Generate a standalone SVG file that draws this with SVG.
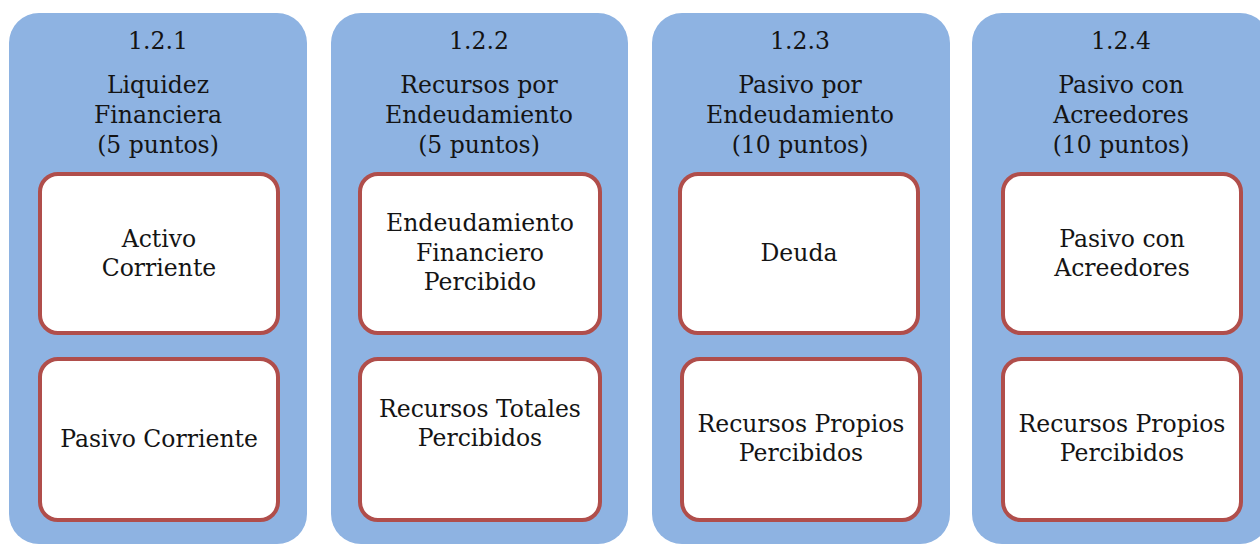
<svg xmlns="http://www.w3.org/2000/svg" width="1260" height="544" viewBox="0 0 1260 544">
<style>
.col{fill:#8EB3E2;}
.box{fill:#FFFFFF;stroke:#B04E4B;stroke-width:4;}
text{font-family:"DejaVu Serif","Liberation Serif",serif;font-size:23.5px;fill:#141414;text-anchor:middle;}
</style>
<rect width="1260" height="544" fill="#FFFFFF"/>
<g id="col1">
<rect class="col" x="9" y="13" width="298" height="531" rx="30"/>
<text x="158" y="49">1.2.1</text>
<text x="158" y="93">Liquidez</text>
<text x="158" y="123">Financiera</text>
<text x="158" y="153">(5 puntos)</text>
<g id="n1a"><rect class="box" x="40" y="174" width="238" height="159" rx="18"/>
<text x="159" y="247">Activo</text><text x="159" y="276">Corriente</text></g>
<g id="n1b"><rect class="box" x="40" y="359" width="238" height="161" rx="18"/>
<text x="159" y="447">Pasivo Corriente</text></g>
</g>
<g id="col2">
<rect class="col" x="331" y="13" width="297" height="531" rx="30"/>
<text x="479" y="49">1.2.2</text>
<text x="479" y="93">Recursos por</text>
<text x="479" y="123">Endeudamiento</text>
<text x="479" y="153">(5 puntos)</text>
<g id="n2a"><rect class="box" x="360" y="174" width="240" height="159" rx="18"/>
<text x="480" y="231">Endeudamiento</text><text x="480" y="261">Financiero</text><text x="480" y="290">Percibido</text></g>
<g id="n2b"><rect class="box" x="360" y="359" width="240" height="161" rx="18"/>
<text x="480" y="417">Recursos Totales</text><text x="480" y="446">Percibidos</text></g>
</g>
<g id="col3">
<rect class="col" x="652" y="13" width="298" height="531" rx="30"/>
<text x="800" y="49">1.2.3</text>
<text x="800" y="93">Pasivo por</text>
<text x="800" y="123">Endeudamiento</text>
<text x="800" y="153">(10 puntos)</text>
<g id="n3a"><rect class="box" x="680" y="174" width="238" height="159" rx="18"/>
<text x="799" y="261">Deuda</text></g>
<g id="n3b"><rect class="box" x="682" y="359" width="238" height="161" rx="18"/>
<text x="801" y="432">Recursos Propios</text><text x="801" y="461">Percibidos</text></g>
</g>
<g id="col4">
<rect class="col" x="972" y="13" width="298" height="531" rx="30"/>
<text x="1121" y="49">1.2.4</text>
<text x="1121" y="93">Pasivo con</text>
<text x="1121" y="123">Acreedores</text>
<text x="1121" y="153">(10 puntos)</text>
<g id="n4a"><rect class="box" x="1003" y="174" width="238" height="159" rx="18"/>
<text x="1122" y="247">Pasivo con</text><text x="1122" y="276">Acreedores</text></g>
<g id="n4b"><rect class="box" x="1003" y="359" width="238" height="161" rx="18"/>
<text x="1122" y="432">Recursos Propios</text><text x="1122" y="461">Percibidos</text></g>
</g>
<g id="connectors"></g>
</svg>
